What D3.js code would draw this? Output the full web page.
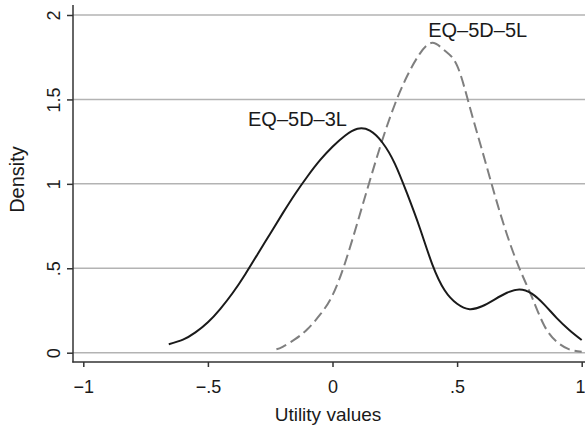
<!DOCTYPE html>
<html>
<head>
<meta charset="utf-8">
<script src="https://cdn.jsdelivr.net/npm/d3@7"></script>
<style>
  body { margin: 0; background: #fff; }
  text { font-family: "Liberation Sans", Arial, sans-serif; fill: #1a1a1a; }
</style>
</head>
<body>
<script>
var w = 585;
var h = 427;

// tick values
var xTicks = [-1, -0.5, 0, 0.5, 1];
var yTicks = [0, 0.5, 1, 1.5, 2];

// EQ-5D-3L density (solid)
var eq3lX = [-0.657, -0.6, -0.55, -0.5, -0.45, -0.4, -0.35, -0.3, -0.25, -0.2, -0.15, -0.1, -0.05, 0, 0.05, 0.1, 0.15, 0.2, 0.25, 0.3, 0.35, 0.4, 0.45, 0.5, 0.55, 0.6, 0.65, 0.7, 0.75, 0.8, 0.85, 0.9, 0.95, 1.0];
var eq3lY = [0.05, 0.077, 0.12, 0.18, 0.26, 0.355, 0.465, 0.585, 0.705, 0.825, 0.94, 1.045, 1.14, 1.22, 1.285, 1.326, 1.315, 1.245, 1.12, 0.94, 0.74, 0.525, 0.37, 0.29, 0.258, 0.275, 0.315, 0.355, 0.375, 0.35, 0.285, 0.205, 0.135, 0.075];

// EQ-5D-5L density (dashed)
var eq5lX = [-0.225, -0.2, -0.15, -0.1, -0.05, 0, 0.05, 0.1, 0.15, 0.2, 0.25, 0.3, 0.35, 0.4, 0.45, 0.5, 0.55, 0.6, 0.65, 0.7, 0.75, 0.8, 0.85, 0.9, 0.95, 1.0];
var eq5lY = [0.02, 0.035, 0.08, 0.14, 0.225, 0.34, 0.53, 0.77, 1.02, 1.26, 1.47, 1.64, 1.77, 1.835, 1.79, 1.7, 1.46, 1.2, 0.94, 0.7, 0.5, 0.33, 0.16, 0.065, 0.02, 0.006];

var seriesLabels = ["EQ\u20135D\u20133L", "EQ\u20135D\u20135L"];

var fmt = function(v){
    return String(v).replace("0.", ".").replace("-", "\u2212");
};

var xScale = d3.scaleLinear().domain([-1, 1]).range([83.3, 581.7]);
var yScale = d3.scaleLinear().domain([0, 2]).range([352.7, 15]);

var svg = d3.select("body").append("svg")
    .attr("width", w)
    .attr("height", h);

// horizontal grid
svg.append("g").selectAll("line")
    .data(yTicks)
    .enter()
    .append("line")
    .attr("x1", 73).attr("x2", w)
    .attr("y1", function(d){ return yScale(d); })
    .attr("y2", function(d){ return yScale(d); })
    .attr("stroke", "#b3b3b3")
    .attr("stroke-width", 1.5);

// x axis
var xAxis = d3.axisBottom(xScale)
    .tickValues(xTicks)
    .tickFormat(fmt)
    .tickSize(5)
    .tickPadding(13);
var gx = svg.append("g")
    .attr("transform", "translate(0,362)")
    .call(xAxis);
gx.select(".domain").remove();
gx.selectAll(".tick line").attr("stroke", "#333").attr("stroke-width", 1.5);
gx.selectAll(".tick text").attr("font-size", "18px").attr("font-family", null);
// last label sits at the right edge, keep it inside
gx.selectAll(".tick text").filter(function(d){ return d === 1; })
    .attr("text-anchor", "end")
    .attr("x", w - xScale(1));

// y axis
var yAxis = d3.axisLeft(yScale)
    .tickValues(yTicks)
    .tickFormat(fmt)
    .tickSize(6);
var gy = svg.append("g")
    .attr("transform", "translate(73,0)")
    .call(yAxis);
gy.select(".domain").remove();
gy.selectAll(".tick line").attr("stroke", "#333").attr("stroke-width", 1.5);
gy.selectAll(".tick text")
    .attr("x", null).attr("dy", null)
    .attr("font-size", "18px").attr("font-family", null)
    .attr("text-anchor", "middle")
    .attr("transform", "translate(-13,0) rotate(-90)");

// axis lines
svg.append("line")
    .attr("x1", 73).attr("x2", 73).attr("y1", 5).attr("y2", 362.5)
    .attr("stroke", "#333").attr("stroke-width", 1.5);
svg.append("line")
    .attr("x1", 72.3).attr("x2", w).attr("y1", 362).attr("y2", 362)
    .attr("stroke", "#333").attr("stroke-width", 1.5);

// density curves
var line = d3.line()
    .x(function(d){ return xScale(d[0]); })
    .y(function(d){ return yScale(d[1]); })
    .curve(d3.curveNatural);

var data3l = eq3lX.map(function(v, i){ return [v, eq3lY[i]]; });
var data5l = eq5lX.map(function(v, i){ return [v, eq5lY[i]]; });

svg.append("path")
    .datum(data5l)
    .attr("d", line)
    .attr("fill", "none")
    .attr("stroke", "#7f7f7f")
    .attr("stroke-width", 2)
    .attr("stroke-dasharray", "11,5");

svg.append("path")
    .datum(data3l)
    .attr("d", line)
    .attr("fill", "none")
    .attr("stroke", "#1a1a1a")
    .attr("stroke-width", 2);

// curve labels
svg.append("text")
    .attr("x", xScale(-0.339)).attr("y", yScale(1.345))
    .attr("font-size", "20px")
    .text(seriesLabels[0]);
svg.append("text")
    .attr("x", xScale(0.384)).attr("y", yScale(1.872))
    .attr("font-size", "20px")
    .text(seriesLabels[1]);

// axis titles
svg.append("text")
    .attr("x", 328).attr("y", 421)
    .attr("text-anchor", "middle")
    .attr("font-size", "19px")
    .text("Utility values");
svg.append("text")
    .attr("transform", "translate(24,179.5) rotate(-90)")
    .attr("text-anchor", "middle")
    .attr("font-size", "20px")
    .text("Density");
</script>
</body>
</html>
